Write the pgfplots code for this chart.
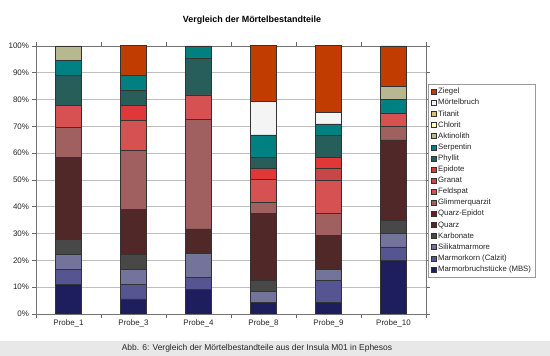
\documentclass[border=0pt]{standalone}
\usepackage{pgfplots}
\pgfplotsset{compat=1.18}
\usepackage{fontspec}
\setmainfont{Liberation Sans}
\definecolor{cMBS}{RGB}{30,30,95}
\definecolor{cCalzit}{RGB}{85,85,145}
\definecolor{cSilikat}{RGB}{115,115,155}
\definecolor{cKarb}{RGB}{72,72,72}
\definecolor{cQuarz}{RGB}{80,40,40}
\definecolor{cQEpi}{RGB}{110,30,30}
\definecolor{cGlimmer}{RGB}{160,96,96}
\definecolor{cFeld}{RGB}{214,82,82}
\definecolor{cGranat}{RGB}{200,70,70}
\definecolor{cEpi}{RGB}{224,56,56}
\definecolor{cPhyl}{RGB}{40,94,90}
\definecolor{cSerp}{RGB}{0,128,128}
\definecolor{cAkt}{RGB}{184,184,144}
\definecolor{cChlorit}{RGB}{255,255,192}
\definecolor{cTitanit}{RGB}{216,192,128}
\definecolor{cMoert}{RGB}{244,244,244}
\definecolor{cZiegel}{RGB}{192,60,0}
\begin{document}
\begin{tikzpicture}
\useasboundingbox (0bp,0bp) rectangle (550bp,356bp);
\fill[white] (0bp,0bp) rectangle (550bp,356bp);
\fill[black!9] (0bp,0bp) rectangle (550bp,15bp);
\node[font=\fontsize{8.5}{10}\selectfont, text=black!85] at (257bp,7.5bp) {Abb. 6: Vergleich der Mörtelbestandteile aus der Insula M01 in Ephesos};
\node[font=\fontsize{9}{11}\selectfont\bfseries] at (252bp,336bp) {Vergleich der Mörtelbestandteile};
\begin{axis}[
  at={(36bp,42bp)}, anchor=south west,
  scale only axis, width=390bp, height=268bp,
  ybar stacked, bar width=0.4,
  xmin=-0.5, xmax=5.5, ymin=0, ymax=100,
  xtick={-0.5,0.5,...,5.5}, xticklabels={},
  extra x ticks={0,1,2,3,4,5},
  extra x tick labels={Probe\_1,Probe\_3,Probe\_4,Probe\_8,Probe\_9,Probe\_10},
  extra x tick style={major tick length=0pt, xticklabel style={yshift=-2bp}},
  ytick={0,10,...,100},
  yticklabel={\pgfmathparse{int(\tick)}\pgfmathresult\%},
  tick label style={font=\fontsize{8}{9}\selectfont, text=black!85},
  tick align=outside, major tick length=3.5bp,
  tick style={draw=black!60, line width=0.6bp},
  axis line style={draw=black!55, line width=0.6bp},
  ymajorgrids, grid style={draw=black!25, line width=0.7bp},
  every axis plot/.append style={draw=black!80, line width=0.5bp,
    legend image code/.code={\draw[##1, line width=0.4bp] (0bp,-2.5bp) rectangle (5bp,2.5bp);}},
  reverse legend,
  legend style={at={(1.005,0.858)}, anchor=north west, draw=black!40, fill=white,
    font=\fontsize{7.8}{9}\selectfont, text=black!85, row sep=0pt,
    nodes={inner sep=1.65bp, text height=6bp, text depth=1.8bp}},
  legend cell align=left,
]
\addplot[fill=cMBS] coordinates {(0,11.1) (1,5.6) (2,9.1) (3,4.2) (4,4.2) (5,20)};
\addlegendentry{Marmorbruchstücke (MBS)}
\addplot[fill=cCalzit] coordinates {(0,5.6) (1,5.5) (2,4.5) (3,0) (4,8.3) (5,5)};
\addlegendentry{Marmorkorn (Calzit)}
\addplot[fill=cSilikat] coordinates {(0,5.5) (1,5.6) (2,9.1) (3,4.2) (4,4.2) (5,5)};
\addlegendentry{Silikatmarmore}
\addplot[fill=cKarb] coordinates {(0,5.6) (1,5.5) (2,0) (3,4.2) (4,0) (5,5)};
\addlegendentry{Karbonate}
\addplot[fill=cQuarz] coordinates {(0,30.6) (1,16.7) (2,9.1) (3,25) (4,12.5) (5,30)};
\addlegendentry{Quarz}
\addplot[fill=cQEpi] coordinates {(0,0) (1,0) (2,0) (3,0) (4,0) (5,0)};
\addlegendentry{Quarz-Epidot}
\addplot[fill=cGlimmer] coordinates {(0,11.1) (1,22.2) (2,40.9) (3,4.2) (4,8.3) (5,5)};
\addlegendentry{Glimmerquarzit}
\addplot[fill=cFeld] coordinates {(0,8.3) (1,11.1) (2,9.1) (3,8.3) (4,12.5) (5,5)};
\addlegendentry{Feldspat}
\addplot[fill=cGranat] coordinates {(0,0) (1,0) (2,0) (3,0) (4,4.2) (5,0)};
\addlegendentry{Granat}
\addplot[fill=cEpi] coordinates {(0,0) (1,5.6) (2,0) (3,4.2) (4,4.2) (5,0)};
\addlegendentry{Epidote}
\addplot[fill=cPhyl] coordinates {(0,11.1) (1,5.6) (2,13.6) (3,4.2) (4,8.3) (5,0)};
\addlegendentry{Phyllit}
\addplot[fill=cSerp] coordinates {(0,5.6) (1,5.6) (2,4.6) (3,8.3) (4,4.2) (5,5)};
\addlegendentry{Serpentin}
\addplot[fill=cAkt] coordinates {(0,5.5) (1,0) (2,0) (3,0) (4,0) (5,5)};
\addlegendentry{Aktinolith}
\addplot[fill=cChlorit] coordinates {(0,0) (1,0) (2,0) (3,0) (4,0) (5,0)};
\addlegendentry{Chlorit}
\addplot[fill=cTitanit] coordinates {(0,0) (1,0) (2,0) (3,0) (4,0) (5,0)};
\addlegendentry{Titanit}
\addplot[fill=cMoert] coordinates {(0,0) (1,0) (2,0) (3,12.5) (4,4.2) (5,0)};
\addlegendentry{Mörtelbruch}
\addplot[fill=cZiegel] coordinates {(0,0) (1,11.1) (2,0) (3,20.8) (4,25) (5,15)};
\addlegendentry{Ziegel}
\end{axis}
\end{tikzpicture}
\end{document}
